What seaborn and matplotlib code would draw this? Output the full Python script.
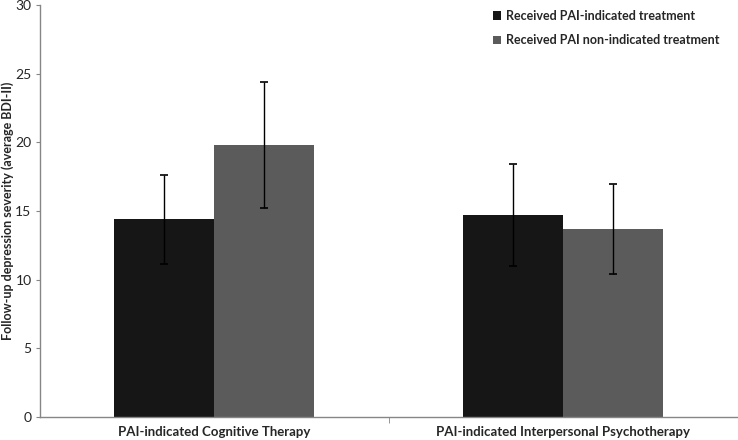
import pandas as pd
import matplotlib
matplotlib.use("Agg")
import matplotlib.pyplot as plt
import seaborn as sns

# data
therapies = ["PAI-indicated Cognitive Therapy", "PAI-indicated Interpersonal Psychotherapy"]
groups = ["Received PAI-indicated treatment", "Received PAI non-indicated treatment"]
indicated_mean = [14.4, 14.7]
indicated_err = [3.25, 3.7]
nonindicated_mean = [19.8, 13.7]
nonindicated_err = [4.55, 3.25]

df = pd.DataFrame({
    "therapy": therapies * 2,
    "group": [groups[0]] * 2 + [groups[1]] * 2,
    "bdi": indicated_mean + nonindicated_mean,
    "err": indicated_err + nonindicated_err,
})

sns.set_style("white")
plt.rcParams["font.family"] = ["Lato", "DejaVu Sans"]

fig = plt.figure(figsize=(7.38, 4.40), dpi=100)
ax = fig.add_axes([0.054, 0.052, 0.946, 0.937])

palette = {groups[0]: "#161616", groups[1]: "#5b5b5b"}
sns.barplot(data=df, x="therapy", y="bdi", hue="group", hue_order=groups,
            order=therapies, palette=palette, width=0.573, errorbar=None,
            saturation=1, linewidth=0, ax=ax)

# error bars on top of each bar
for cont, g in zip(ax.containers, groups):
    sub = df[df["group"] == g].set_index("therapy").loc[therapies]
    xs = [p.get_x() + p.get_width() / 2 for p in cont.patches]
    ax.errorbar(xs, sub["bdi"], yerr=sub["err"], fmt="none", ecolor="black",
                elinewidth=1.0, capsize=3, capthick=1.2)

ax.set_ylim(0, 30)
ax.set_xlim(-0.5, 1.5)
ax.set_yticks(range(0, 31, 5))
ax.set_ylabel("Follow-up depression severity (average BDI-II)", fontsize=9, fontweight="bold")
ax.yaxis.set_label_coords(-0.037, 0.5)
ax.set_xlabel("")
ax.tick_params(axis="y", left=True, length=3, color="#868686", labelsize=10, pad=3)
ax.tick_params(axis="x", bottom=False, labelsize=9.5, pad=3)
for lbl in ax.get_xticklabels():
    lbl.set_fontweight("bold")

# category boundary ticks like the original
ax.set_xticks([0.5], minor=True)
ax.tick_params(axis="x", which="minor", bottom=True, length=4, color="#868686")

for s in ["top", "right"]:
    ax.spines[s].set_visible(False)
for s in ["left", "bottom"]:
    ax.spines[s].set_color("#868686")
    ax.spines[s].set_linewidth(1.0)

leg = ax.legend(loc="upper right", bbox_to_anchor=(0.99, 1.015), frameon=False,
                fontsize=9, handlelength=0.7, handleheight=0.7, handletextpad=0.4,
                labelspacing=1.0)
for t in leg.get_texts():
    t.set_fontweight("bold")

fig.savefig("out.png", dpi=100)
